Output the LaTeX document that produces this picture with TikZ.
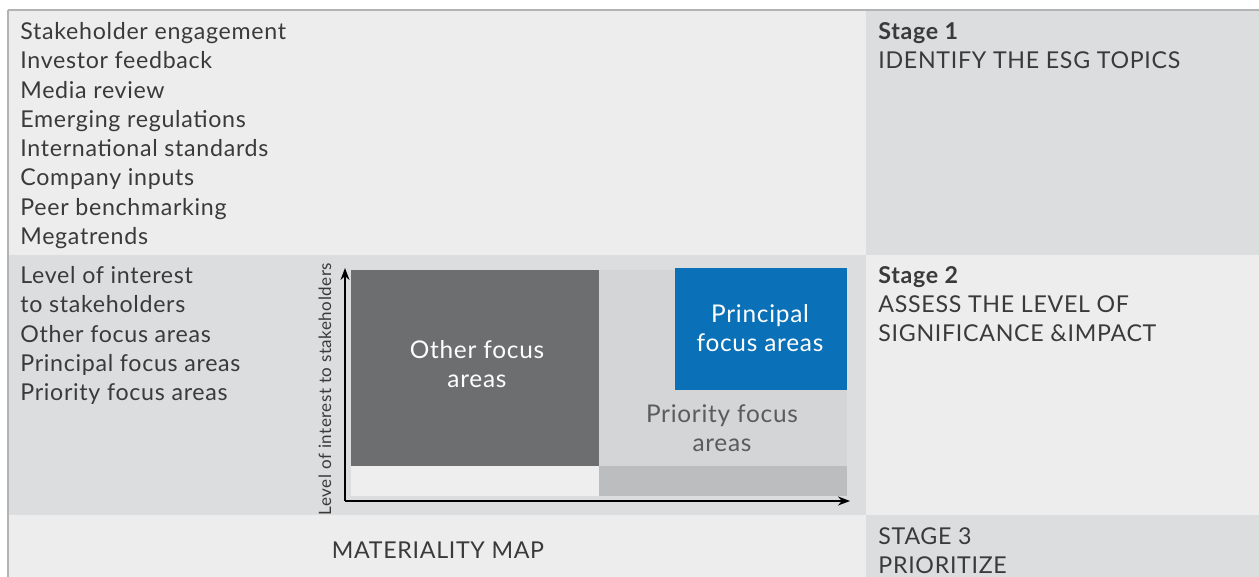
\documentclass[tikz,border=0pt]{standalone}
\usepackage{fontspec}
\setmainfont{Lato}[LetterSpace=3]
\usetikzlibrary{positioning,arrows.meta}
\definecolor{panelLight}{HTML}{EDEDED}
\definecolor{panelDark}{HTML}{DCDDDF}
\definecolor{ruleGrey}{HTML}{B3B3B3}
\definecolor{ink}{HTML}{3A3A3A}
\definecolor{mapDark}{HTML}{6D6E70}
\definecolor{mapGrey}{HTML}{D4D5D7}
\definecolor{mapBlue}{HTML}{0A70B7}
\definecolor{mapPale}{HTML}{EEEEEE}
\definecolor{mapMid}{HTML}{BCBDBF}
\definecolor{mapInk}{HTML}{5A5B5D}

\begin{document}
\begin{tikzpicture}[
  x=0.5pt, y=-0.5pt,
  list/.style={anchor=north west, align=left, inner sep=0pt, text=ink, font=\fontsize{11.6}{14.65}\selectfont},
  stage/.style={list},
  maplabel/.style={align=center, inner sep=0pt, font=\fontsize{12.2}{14.2}\selectfont},
  axislabel/.style={inner sep=0pt, text=ink, font=\fontsize{8.5}{10}\selectfont},
  >={Stealth[length=6pt, width=4.5pt]}
]
\useasboundingbox (0,0) rectangle (1259,577);
% panels
\fill[panelLight] (8,10) rectangle (866,255);
\fill[panelDark] (866,10) rectangle (1259,255);
\fill[panelDark] (8,255) rectangle (866,515);
\fill[panelLight] (866,255) rectangle (1259,515);
\fill[panelLight] (8,515) rectangle (866,577);
\fill[panelDark] (866,515) rectangle (1259,577);
\draw[ruleGrey, line width=1pt] (8,10) -- (1259,10);
\draw[ruleGrey, line width=0.6pt] (8,10) -- (8,577);

% stage 1
\node[list] (sources) at (20,22) {Stakeholder engagement\\Investor feedback\\Media review\\Emerging regulations\\International standards\\Company inputs\\Peer benchmarking\\Megatrends};
\node[stage] (stage1) at (878,22) {\textbf{Stage 1}\\IDENTIFY THE ESG TOPICS};

% stage 2
\node[list] (legend) at (20,266) {Level of interest\\to stakeholders\\Other focus areas\\Principal focus areas\\Priority focus areas};
\node[stage] (stage2) at (878,266) {\textbf{Stage 2}\\ASSESS THE LEVEL OF\\SIGNIFICANCE \&IMPACT};

% materiality map
\fill[mapDark] (351,270) rectangle (599,466);
\fill[mapGrey] (599,270) rectangle (847,466);
\fill[mapBlue] (675,268) rectangle (847,390);
\fill[mapPale] (351,466) rectangle (599,496);
\fill[mapMid] (599,466) rectangle (847,496);
\node[maplabel, text=white] (other) at (477,364) {Other focus\\areas};
\node[maplabel, text=white] (principal) at (760,328) {Principal\\focus areas};
\node[maplabel, text=mapInk] (priority) at (722,428) {Priority focus\\areas};
\coordinate (origin) at (345,501);
\coordinate (ytip) at (345,268);
\coordinate (xtip) at (850,501);
\draw[->, line width=0.8pt] (origin) -- (ytip);
\draw[->, line width=0.8pt] (origin) -- (xtip);
\node[axislabel, rotate=90] (yname) at (325,389) {Level of interest to stakeholders};

% stage 3
\node[text=ink, inner sep=0pt, font=\fontsize{11.6}{14.65}\selectfont] (mapname) at (438,550) {MATERIALITY MAP};
\node[stage] (stage3) at (878,527) {STAGE 3\\PRIORITIZE};
\end{tikzpicture}
\end{document}
